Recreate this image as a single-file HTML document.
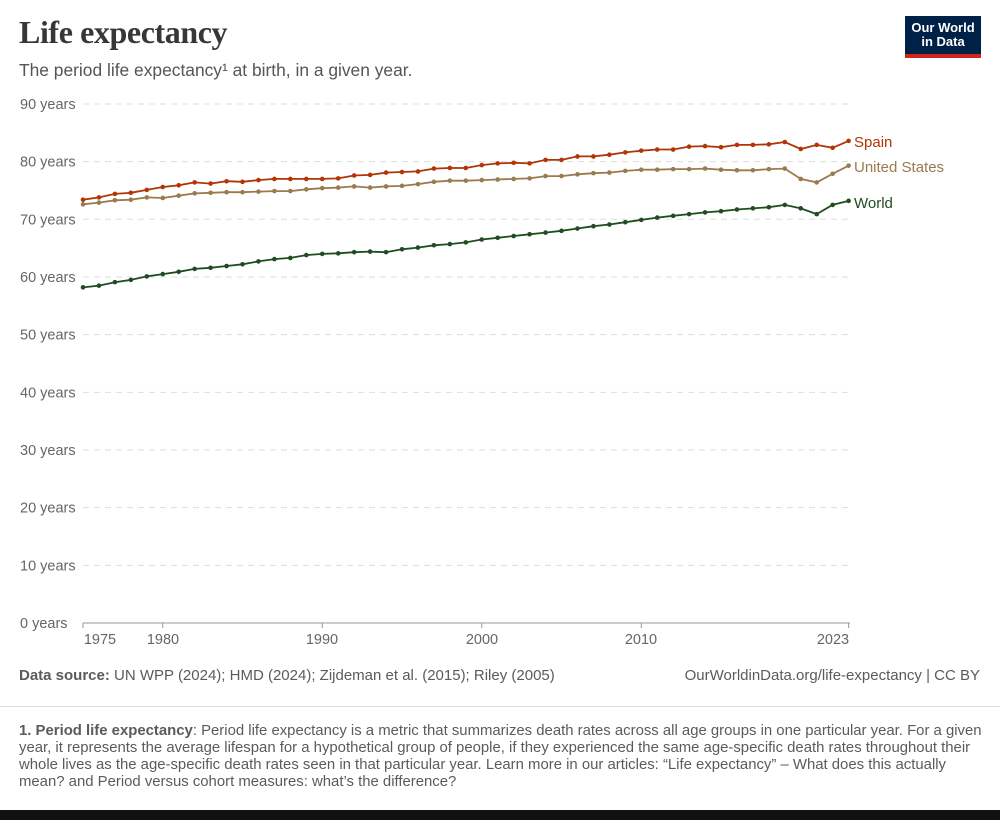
<!DOCTYPE html>
<html><head><meta charset="utf-8"><style>
body{margin:0;width:1000px;height:820px;background:#fff;position:relative;overflow:hidden;font-family:"Liberation Sans",sans-serif;}
.t{position:absolute;white-space:nowrap;}
</style></head><body>
<div class="t" style="left:19px;top:14px;font-family:'Liberation Serif',serif;font-size:32px;font-weight:bold;color:#373737;letter-spacing:-0.4px">Life expectancy</div>
<div class="t" style="left:19px;top:60px;font-size:17.4px;color:#555">The period life expectancy¹ at birth, in a given year.</div>
<div style="position:absolute;left:905px;top:16px;width:76px;height:42px;background:#002147;border-bottom:4px solid #ce261e;box-sizing:border-box;color:#fff;font-size:13px;font-weight:bold;text-align:center;line-height:14px;padding-top:5px">Our World<br>in Data</div>
<svg id="c" width="1000" height="700" style="position:absolute;left:0;top:0"></svg>
<div class="t" style="left:19px;top:667px;font-size:15px;color:#5b5b5b"><b>Data source:</b> UN WPP (2024); HMD (2024); Zijdeman et al. (2015); Riley (2005)</div>
<div class="t" style="right:20px;top:667px;font-size:15px;color:#5b5b5b">OurWorldinData.org/life-expectancy | CC BY</div>
<div style="position:absolute;left:0;top:706px;width:1000px;border-top:1px solid #ddd"></div>
<div class="t" style="left:19px;top:723px;font-size:14.9px;color:#5b5b5b;line-height:17px"><b>1. Period life expectancy</b>: Period life expectancy is a metric that summarizes death rates across all age groups in one particular year. For a given<br>year, it represents the average lifespan for a hypothetical group of people, if they experienced the same age-specific death rates throughout their<br>whole lives as the age-specific death rates seen in that particular year. Learn more in our articles: “Life expectancy” – What does this actually<br>mean? and Period versus cohort measures: what’s the difference?</div>
<div style="position:absolute;left:0;top:810px;width:1000px;height:10px;background:#111"></div>
<script>
var S=[73.4,73.8,74.4,74.6,75.1,75.6,75.9,76.4,76.2,76.6,76.5,76.8,77.0,77.0,77.0,77.0,77.1,77.6,77.7,78.1,78.2,78.3,78.8,78.9,78.9,79.4,79.7,79.8,79.7,80.3,80.3,80.9,80.9,81.2,81.6,81.9,82.1,82.1,82.6,82.7,82.5,82.9,82.9,83.0,83.4,82.2,82.9,82.4,83.6];
var U=[72.6,72.9,73.3,73.4,73.8,73.7,74.1,74.5,74.6,74.7,74.7,74.8,74.9,74.9,75.2,75.4,75.5,75.7,75.5,75.7,75.8,76.1,76.5,76.7,76.7,76.8,76.9,77.0,77.1,77.5,77.5,77.8,78.0,78.1,78.4,78.6,78.6,78.7,78.7,78.8,78.6,78.5,78.5,78.7,78.8,77.0,76.4,77.9,79.3];
var W=[58.2,58.5,59.1,59.5,60.1,60.5,60.9,61.4,61.6,61.9,62.2,62.7,63.1,63.3,63.8,64.0,64.1,64.3,64.4,64.3,64.8,65.1,65.5,65.7,66.0,66.5,66.8,67.1,67.4,67.7,68.0,68.4,68.8,69.1,69.5,69.9,70.3,70.6,70.9,71.2,71.4,71.7,71.9,72.1,72.5,71.9,70.9,72.5,73.2];
function X(i){return 83+i*15.95}function Y(v){return 623-v*5.767}
var h='';
for(var k=0;k<=9;k++){var y=Y(k*10);
 if(k>0)h+='<line x1="83" x2="850" y1="'+y+'" y2="'+y+'" stroke="#ddd" stroke-dasharray="6,5"/>';
 h+='<text x="20" y="'+(y+5)+'" font-size="14.5" fill="#666" font-family="Liberation Sans">'+(k*10)+' years</text>';}
h+='<line x1="83" x2="850" y1="623" y2="623" stroke="#999"/>';
[[1975,100],[1980,163],[1990,322],[2000,482],[2010,641],[2023,833]].forEach(function(a){
 var x=X(a[0]-1975);h+='<line x1="'+x+'" x2="'+x+'" y1="623" y2="628" stroke="#999"/>';
 h+='<text x="'+a[1]+'" y="644" font-size="14.5" fill="#666" text-anchor="middle" font-family="Liberation Sans">'+a[0]+'</text>';});
[[S,'#b13507','Spain',147],[U,'#9a7a4f','United States',172],[W,'#1f4d1f','World',208]].forEach(function(s){
 var p=s[0].map(function(v,i){return X(i).toFixed(1)+','+Y(v).toFixed(1)}).join(' ');
 h+='<polyline points="'+p+'" fill="none" stroke="'+s[1]+'" stroke-width="1.8"/>';
 s[0].forEach(function(v,i){h+='<circle cx="'+X(i)+'" cy="'+Y(v)+'" r="2.3" fill="'+s[1]+'"/>'});
 h+='<text x="854" y="'+s[3]+'" font-size="15" fill="'+s[1]+'" font-family="Liberation Sans">'+s[2]+'</text>';});
document.getElementById('c').innerHTML=h;
</script>
</body></html>
